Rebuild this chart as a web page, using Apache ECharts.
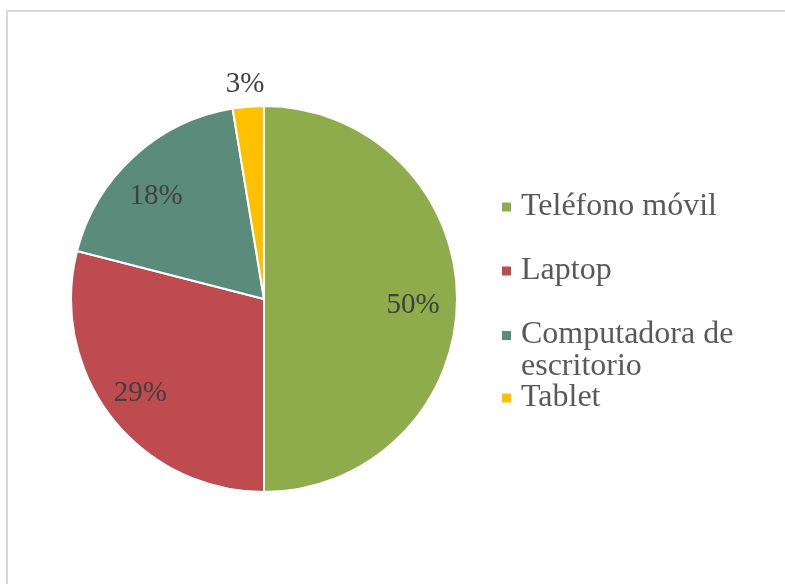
<!DOCTYPE html>
<html>
<head>
<meta charset="utf-8">
<script src="https://cdn.jsdelivr.net/npm/echarts@6/dist/echarts.min.js"></script>
<style>
    body{margin:0;background:#fff;overflow:hidden;}
    #marco{position:absolute;left:6px;top:10px;width:800px;height:600px;border:2px solid #d9d9d9;}
    #grafico{position:absolute;left:0;top:0;width:785px;height:584px;}
</style>
</head>
<body>
<div id="marco"></div>
<div id="grafico"></div>
<script>
/**
 * datos del grafico
 */
var categorias = ["Teléfono móvil", "Laptop", "Computadora de escritorio", "Tablet"];
var valores = [50, 29, 18.4, 2.6];
var colores = ["#8eac4b", "#be4b50", "#5b8c7b", "#ffc000"];

/**
 * pequeños ajustes de las etiquetas de porcentaje
 */
var ajusteEtiquetas = [[-5, 6], [-2, 0], [-4, 11], [0, 0]];

var fuente = "'Liberation Serif', 'Times New Roman', serif";

/**
 * serie principal (sin etiquetas, salvo Tablet que va por fuera)
 */
var datosPie = categorias.map(function(nombre, i){
    var item = {name: nombre, value: valores[i], itemStyle: {color: colores[i]}};
    if (i == 3) {
        item.label = {
            show: true,
            position: "outside",
            distanceToLabelLine: -18
        };
        item.labelLine = {show: false, length: 22, length2: 0};
    }
    return item;
});

/**
 * capa transparente solo para poner las etiquetas mas hacia fuera
 */
var datosEtiquetas = categorias.map(function(nombre, i){
    return {
        name: nombre,
        value: valores[i],
        itemStyle: {color: "rgba(0,0,0,0)", borderWidth: 0},
        label: {show: i != 3, offset: ajusteEtiquetas[i]}
    };
});

var etiqueta = {
    fontFamily: fuente,
    fontSize: 29,
    color: "#404040",
    formatter: function(p){ return Math.round(p.value) + "%"; }
};

/**
 * leyenda: "Computadora de escritorio" en dos lineas
 */
var formatoLeyenda = function(name){
    if (name == "Computadora de escritorio") return "{a|Computadora de}\n{b|escritorio}";
    return name;
};

var textoLeyenda = {
    fontFamily: fuente,
    fontSize: 32,
    color: "#595959",
    lineHeight: 32,
    padding: [0, 0, 0, 4],
    rich: {
        a: {fontFamily: fuente, fontSize: 32, color: "#595959", lineHeight: 32},
        b: {fontFamily: fuente, fontSize: 32, color: "#595959", lineHeight: 1, height: 32, verticalAlign: "top"}
    }
};

var leyendaBase = {
    orient: "vertical",
    left: 500,
    padding: 0,
    icon: "rect",
    itemWidth: 11,
    itemHeight: 11,
    itemGap: 32,
    selectedMode: false,
    formatter: formatoLeyenda,
    textStyle: textoLeyenda
};

var myChart = echarts.init(document.getElementById("grafico"));
myChart.setOption({
    animation: false,
    legend: [
        Object.assign({top: 191, data: categorias.slice(0, 3)}, leyendaBase),
        Object.assign({top: 382, data: categorias.slice(3)}, leyendaBase)
    ],
    series: [
        {
            type: "pie",
            center: [264, 299],
            radius: [0, 193],
            startAngle: 90,
            clockwise: true,
            avoidLabelOverlap: false,
            silent: true,
            itemStyle: {borderColor: "#fff", borderWidth: 2},
            label: Object.assign({show: false}, etiqueta),
            labelLine: {show: false},
            data: datosPie
        },
        {
            type: "pie",
            center: [264, 299],
            radius: [0, 302],
            startAngle: 90,
            clockwise: true,
            avoidLabelOverlap: false,
            silent: true,
            label: Object.assign({position: "inside"}, etiqueta),
            labelLine: {show: false},
            emphasis: {disabled: true},
            data: datosEtiquetas
        }
    ]
});
</script>
</body>
</html>
